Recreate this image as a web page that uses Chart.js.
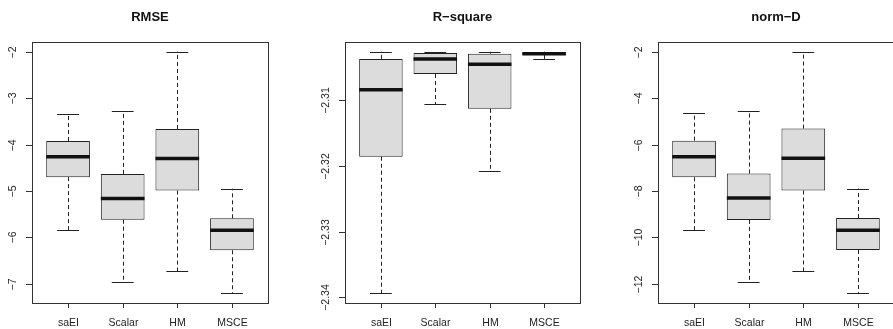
<!DOCTYPE html>
<html lang="en">
<head>
<meta charset="UTF-8">
<title>Boxplots: RMSE, R-square, norm-D</title>
<style>
  body {
    margin: 0;
    background: #ffffff;
    width: 893px;
    height: 329px;
    overflow: hidden;
    position: relative;
  }
  .panel {
    position: absolute;
    top: 0;
    width: 298px;
    height: 329px;
  }
</style>
</head>
<body>
<div class="panel" style="left:0"><canvas id="rmseChart"></canvas></div>
<div class="panel" style="left:298px"><canvas id="rsqChart"></canvas></div>
<div class="panel" style="left:596px"><canvas id="normChart"></canvas></div>

<script src="https://cdn.jsdelivr.net/npm/chart.js"></script>
<script>
const categories = ['saEI', 'Scalar', 'HM', 'MSCE'];

// RMSE boxes (lower whisker, Q1, median, Q3, upper whisker)
const rmseLow  = [-5.85, -6.96, -6.73, -7.21];
const rmseQ1   = [-4.70, -5.62, -4.99, -6.28];
const rmseMed  = [-4.26, -5.16, -4.30, -5.85];
const rmseQ3   = [-3.92, -4.63, -3.66, -5.59];
const rmseHigh = [-3.33, -3.28, -1.99, -4.95];
const rmseTicks = [-2, -3, -4, -5, -6, -7];
const rmseTickLabels = ['\u22122', '\u22123', '\u22124', '\u22125', '\u22126', '\u22127'];

// R-square boxes
const rsqLow  = [-2.3394, -2.3106, -2.3208, -2.3037];
const rsqQ1   = [-2.3186, -2.3060, -2.3113, -2.3031];
const rsqMed  = [-2.3084, -2.3037, -2.3045, -2.3029];
const rsqQ3   = [-2.3037, -2.3028, -2.3029, -2.3027];
const rsqHigh = [-2.3026, -2.3027, -2.3026, -2.3026];
const rsqTicks = [-2.31, -2.32, -2.33, -2.34];
const rsqTickLabels = ['\u22122.31', '\u22122.32', '\u22122.33', '\u22122.34'];

// norm-D boxes
const normLow  = [-9.70, -11.93, -11.47, -12.42];
const normQ1   = [-7.41, -9.25, -7.98, -10.55];
const normMed  = [-6.52, -8.31, -6.59, -9.70];
const normQ3   = [-5.83, -7.25, -5.31, -9.17];
const normHigh = [-4.65, -4.57, -1.99, -7.90];
const normTicks = [-2, -4, -6, -8, -10, -12];
const normTickLabels = ['\u22122', '\u22124', '\u22126', '\u22128', '\u221210', '\u221212'];

const FONT = '"Liberation Sans", Arial, Helvetica, sans-serif';

// whiskers, medians, frame and R-style axes drawn through the chart scales
const boxPlugin = {
    id: 'rbox',
    afterDatasetsDraw(chart) {
        const ctx = chart.ctx;
        const xs = chart.scales.x;
        const ys = chart.scales.y;
        const ds = chart.data.datasets[0];
        const area = chart.chartArea;
        const halfBox = 0.4;     // boxwex 0.8
        const halfCap = 0.2;     // staplewex 0.5

        ctx.save();
        ds.extra.med.forEach((m, i) => {
            const x = Math.round(xs.getPixelForValue(i + 1)) + 0.5;
            const yLo = ys.getPixelForValue(ds.extra.low[i]);
            const yQ1 = ys.getPixelForValue(ds.extra.q1[i]);
            const yQ3 = ys.getPixelForValue(ds.extra.q3[i]);
            const yHi = ys.getPixelForValue(ds.extra.high[i]);

            // dashed whiskers
            ctx.strokeStyle = '#222';
            ctx.lineWidth = 1;
            ctx.setLineDash([4, 3]);
            ctx.beginPath();
            ctx.moveTo(x, yQ1); ctx.lineTo(x, yLo);
            ctx.moveTo(x, yQ3); ctx.lineTo(x, yHi);
            ctx.stroke();
            ctx.setLineDash([]);

            // caps
            const cl = xs.getPixelForValue(i + 1 - halfCap);
            const cr = xs.getPixelForValue(i + 1 + halfCap);
            ctx.beginPath();
            ctx.moveTo(cl, Math.round(yLo) + 0.5); ctx.lineTo(cr, Math.round(yLo) + 0.5);
            ctx.moveTo(cl, Math.round(yHi) + 0.5); ctx.lineTo(cr, Math.round(yHi) + 0.5);
            ctx.stroke();

            // median
            const bl = xs.getPixelForValue(i + 1 - halfBox);
            const br = xs.getPixelForValue(i + 1 + halfBox);
            const yM = ys.getPixelForValue(m);
            ctx.strokeStyle = '#111';
            ctx.lineWidth = 3.5;
            ctx.beginPath();
            ctx.moveTo(bl, yM); ctx.lineTo(br, yM);
            ctx.stroke();
        });

        // plot frame
        ctx.strokeStyle = '#333';
        ctx.lineWidth = 1;
        ctx.strokeRect(Math.round(area.left) + 0.5, Math.round(area.top) + 0.5,
            Math.round(area.right - area.left), Math.round(area.bottom - area.top));

        // y axis ticks + rotated labels
        ctx.fillStyle = '#222';
        ctx.font = '10.5px ' + FONT;
        ys.ticks.forEach((t, i) => {
            const y = Math.round(ys.getPixelForValue(t.value)) + 0.5;
            ctx.beginPath();
            ctx.moveTo(area.left, y); ctx.lineTo(area.left - 6, y);
            ctx.stroke();
            ctx.save();
            ctx.translate(area.left - 16, y);
            ctx.rotate(-Math.PI / 2);
            ctx.textAlign = 'center';
            ctx.textBaseline = 'alphabetic';
            ctx.fillText(ds.extra.tickLabels[i], 0, 0);
            ctx.restore();
        });

        // x axis ticks + labels
        ctx.textAlign = 'center';
        ctx.textBaseline = 'middle';
        categories.forEach((c, i) => {
            const x = Math.round(xs.getPixelForValue(i + 1)) + 0.5;
            ctx.beginPath();
            ctx.moveTo(x, area.bottom); ctx.lineTo(x, area.bottom + 5);
            ctx.stroke();
            ctx.fillText(c, x, area.bottom + 20);
        });

        // title
        ctx.font = 'bold 13px ' + FONT;
        ctx.fillStyle = '#111';
        ctx.fillText(ds.extra.title, (area.left + area.right) / 2, 17);
        ctx.restore();
    }
};

function makePanel(id, title, low, q1, med, q3, high, ticks, tickLabels, padLeft, padRight) {
    const lo = Math.min(...low);
    const hi = Math.max(...high);
    const ext = (hi - lo) * 0.04;
    return new Chart(document.getElementById(id), {
        type: 'bar',
        data: {
            datasets: [{
                data: categories.map((c, i) => ({ x: i + 1, y: [q1[i], q3[i]] })),
                backgroundColor: '#dcdcdc',
                borderColor: '#222',
                borderWidth: 1,
                borderSkipped: false,
                barPercentage: 0.8,
                categoryPercentage: 1,
                extra: { title, low, q1, med, q3, high, tickLabels }
            }]
        },
        options: {
            responsive: true,
            maintainAspectRatio: false,
            animation: false,
            layout: { padding: { left: padLeft, right: padRight, top: 42, bottom: 26 } },
            plugins: { legend: { display: false }, tooltip: { enabled: false } },
            scales: {
                x: {
                    type: 'linear', display: false, offset: false,
                    min: 0.34, max: 4.66,
                    afterBuildTicks: s => { s.ticks = categories.map((c, i) => ({ value: i + 1 })); }
                },
                y: {
                    display: false,
                    min: lo - ext, max: hi + ext,
                    afterBuildTicks: s => { s.ticks = ticks.map(v => ({ value: v })); }
                }
            }
        },
        plugins: [boxPlugin]
    });
}

makePanel('rmseChart', 'RMSE', rmseLow, rmseQ1, rmseMed, rmseQ3, rmseHigh, rmseTicks, rmseTickLabels, 32, 30);
makePanel('rsqChart', 'R\u2212square', rsqLow, rsqQ1, rsqMed, rsqQ3, rsqHigh, rsqTicks, rsqTickLabels, 47, 16);
makePanel('normChart', 'norm\u2212D', normLow, normQ1, normMed, normQ3, normHigh, normTicks, normTickLabels, 62, 0);
</script>
</body>
</html>
